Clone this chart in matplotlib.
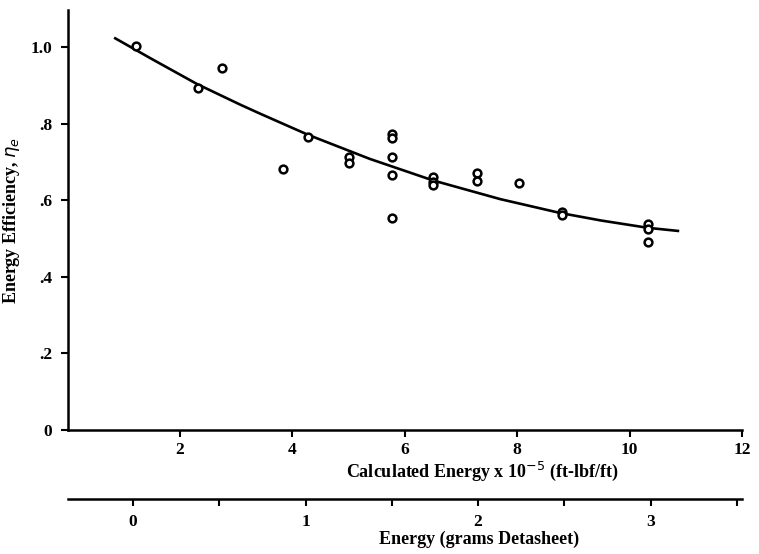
import matplotlib
matplotlib.use('Agg')
import matplotlib.pyplot as plt
from matplotlib.ticker import FixedLocator

# Data
calc_energy = [1.22, 2.32, 2.74, 3.83, 4.28, 5.00, 5.00, 5.78, 5.78, 5.78, 5.78, 5.78,
               6.50, 6.50, 6.50, 7.29, 7.29, 8.03, 8.80, 8.80, 10.33, 10.33, 10.33]
efficiency = [1.003, 0.893, 0.945, 0.681, 0.765, 0.713, 0.697, 0.772, 0.763, 0.713, 0.666, 0.553,
              0.661, 0.648, 0.640, 0.671, 0.650, 0.645, 0.569, 0.561, 0.538, 0.525, 0.491]

curve_x = [0.85, 1.5, 2.3, 3.07, 3.43, 4.28, 5.38, 6.5, 7.7, 8.76, 9.5, 10.33, 10.86]
curve_y = [1.023, 0.969, 0.904, 0.850, 0.826, 0.771, 0.708, 0.652, 0.603, 0.567, 0.547, 0.528, 0.520]

x_ticks = [2, 4, 6, 8, 10, 12]
x_tick_labels = ['2', '4', '6', '8', '10', '12']
y_ticks = [0, 0.2, 0.4, 0.6, 0.8, 1.0]
y_tick_labels = ['0', '.2', '.4', '.6', '.8', '1.0']

gram_ticks = [0, 1, 2, 3]
gram_tick_labels = ['0', '1', '2', '3']
gram_minor_ticks = [0.5, 1.5, 2.5, 3.5]
# secondary scale: calculated energy at 0 grams, and calculated energy per gram
calc_at_zero_grams = 1.165
calc_per_gram = 3.07

FONT = 'Liberation Serif'
TICK_FS = 12.5
LABEL_FS = 13

fig = plt.figure(figsize=(7.59, 5.54), dpi=100)
ax = fig.add_axes([67.5 / 759, 124 / 554, 674.5 / 759, 420 / 554])

ax.plot(curve_x, curve_y, color='black', lw=1.9)
ax.plot(calc_energy, efficiency, linestyle='none', marker='o', markersize=5.6,
        markerfacecolor='white', markeredgecolor='black', markeredgewidth=1.8)

ax.set_xlim(0, 12)
ax.set_ylim(0, 1.097)
ax.set_xticks(x_ticks)
ax.set_xticklabels(x_tick_labels, fontfamily=FONT, fontweight='bold', fontsize=TICK_FS)
ax.set_yticks(y_ticks)
ax.set_yticklabels(y_tick_labels, fontfamily=FONT, fontweight='bold', fontsize=TICK_FS)

for s in ['top', 'right']:
    ax.spines[s].set_visible(False)
for s in ['left', 'bottom']:
    ax.spines[s].set_linewidth(1.8)

ax.tick_params(axis='x', direction='out', length=5, width=1.5, pad=4)
ax.tick_params(axis='y', direction='out', length=5, width=1.5, pad=6)

ax.set_xlabel('Calculated Energy x 10$^{-5}$ (ft-lbf/ft)', fontfamily=FONT,
              fontweight='bold', fontsize=LABEL_FS)
ax.xaxis.set_label_coords(0.615, -0.072)
ax.set_ylabel('Energy Efficiency, $\\eta_e$', fontfamily=FONT, fontweight='bold',
              fontsize=LABEL_FS)
ax.yaxis.set_label_coords(-0.068, 0.5)


def to_grams(c):
    return (c - calc_at_zero_grams) / calc_per_gram


def to_calc(g):
    return g * calc_per_gram + calc_at_zero_grams


sec = ax.secondary_xaxis(-0.164, functions=(to_grams, to_calc))
sec.set_xticks(gram_ticks)
sec.set_xticklabels(gram_tick_labels, fontfamily=FONT, fontweight='bold', fontsize=TICK_FS)
sec.xaxis.set_minor_locator(FixedLocator(gram_minor_ticks))
sec.spines['bottom'].set_linewidth(1.8)
sec.tick_params(axis='x', which='both', direction='out', length=5, width=1.5, pad=6)
sec.set_xlabel('Energy (grams Detasheet)', fontfamily=FONT, fontweight='bold',
               fontsize=LABEL_FS)
sec.xaxis.set_label_coords(0.61, -0.24, transform=ax.transAxes)

fig.savefig('out.png', dpi=100, facecolor='white')
